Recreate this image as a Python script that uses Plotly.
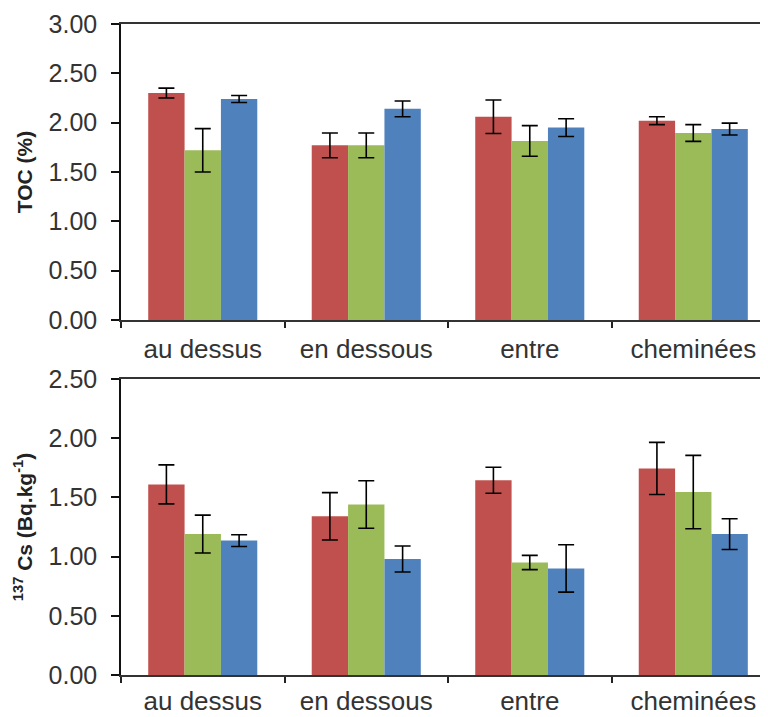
import plotly.graph_objects as go

categories = ["au dessus", "en dessous", "entre", "cheminées"]

toc_red = [2.30, 1.77, 2.06, 2.02]
toc_red_err = [0.05, 0.125, 0.17, 0.04]
toc_green = [1.72, 1.77, 1.815, 1.895]
toc_green_err = [0.22, 0.125, 0.155, 0.085]
toc_blue = [2.24, 2.14, 1.95, 1.935]
toc_blue_err = [0.035, 0.08, 0.09, 0.06]

cs_red = [1.61, 1.34, 1.645, 1.745]
cs_red_err = [0.165, 0.2, 0.11, 0.22]
cs_green = [1.19, 1.44, 0.95, 1.545]
cs_green_err = [0.16, 0.2, 0.06, 0.31]
cs_blue = [1.135, 0.98, 0.90, 1.19]
cs_blue_err = [0.05, 0.11, 0.20, 0.13]

toc_ticks = [0, 0.5, 1.0, 1.5, 2.0, 2.5, 3.0]
cs_ticks = [0, 0.5, 1.0, 1.5, 2.0, 2.5]

RED = "#C0504D"
GREEN = "#9BBB59"
BLUE = "#4F81BD"

# page body has an 8px margin: figure is sized so it ends at the window edge
OFF = 8
W, H = 768 - OFF, 717 - OFF
fig = go.Figure()

def add_series(vals, errs, color, xa, ya):
    fig.add_trace(go.Bar(
        x=categories, y=vals, marker=dict(color=color, line=dict(width=0)),
        error_y=dict(type="data", array=errs, visible=True, color="black", thickness=1.6, width=8),
        xaxis=xa, yaxis=ya, showlegend=False,
    ))

add_series(toc_red, toc_red_err, RED, "x", "y")
add_series(toc_green, toc_green_err, GREEN, "x", "y")
add_series(toc_blue, toc_blue_err, BLUE, "x", "y")
add_series(cs_red, cs_red_err, RED, "x2", "y2")
add_series(cs_green, cs_green_err, GREEN, "x2", "y2")
add_series(cs_blue, cs_blue_err, BLUE, "x2", "y2")

def ypx(p):
    return 1 - (p - OFF) / H

left = (121 - OFF) / W
top_dom = [ypx(320), ypx(24)]
bot_dom = [ypx(675), ypx(379)]

tick_font = dict(family="Liberation Sans, Arial", size=25, color="#333333")
cat_font = dict(family="Liberation Sans, Arial", size=26, color="#333333")
title_font = dict(family="Liberation Sans, Arial", size=21, color="#222222")

xcommon = dict(
    type="category", range=[-0.5, 3.457], showline=True, linecolor="#333333", linewidth=1.5,
    mirror=True, ticks="outside", ticklen=6, tickcolor="#222222", tickwidth=1.5,
    tickson="boundaries", tickfont=cat_font, showgrid=False, zeroline=False,
    automargin=False,
)
ycommon = dict(
    showline=True, linecolor="#111111", linewidth=1.5, ticks="outside", ticklen=8,
    tickcolor="#111111", tickwidth=1.5, tickfont=tick_font, showgrid=False, zeroline=False,
    tickformat=".2f", ticklabelstandoff=9, automargin=False,
)

fig.update_layout(
    width=W, height=H, margin=dict(l=0, r=0, t=0, b=0),
    paper_bgcolor="white", plot_bgcolor="white",
    barmode="group", bargap=0.333, bargroupgap=0,
    xaxis=dict(domain=[left, 1], anchor="y", ticklabelstandoff=5, **xcommon),
    yaxis=dict(domain=top_dom, anchor="x", range=[0, 3.0], tickvals=toc_ticks,
               title=dict(text="<b>TOC (%)</b>", font=title_font, standoff=10), **ycommon),
    xaxis2=dict(domain=[left, 1], anchor="y2", ticklabelstandoff=2, **xcommon),
    yaxis2=dict(domain=bot_dom, anchor="x2", range=[0, 2.5], tickvals=cs_ticks,
                title=dict(text="<b><sup>137</sup> Cs (Bq.kg<sup>-1</sup>)</b>", font=title_font, standoff=10), **ycommon),
)

fig.write_html("out.html")
